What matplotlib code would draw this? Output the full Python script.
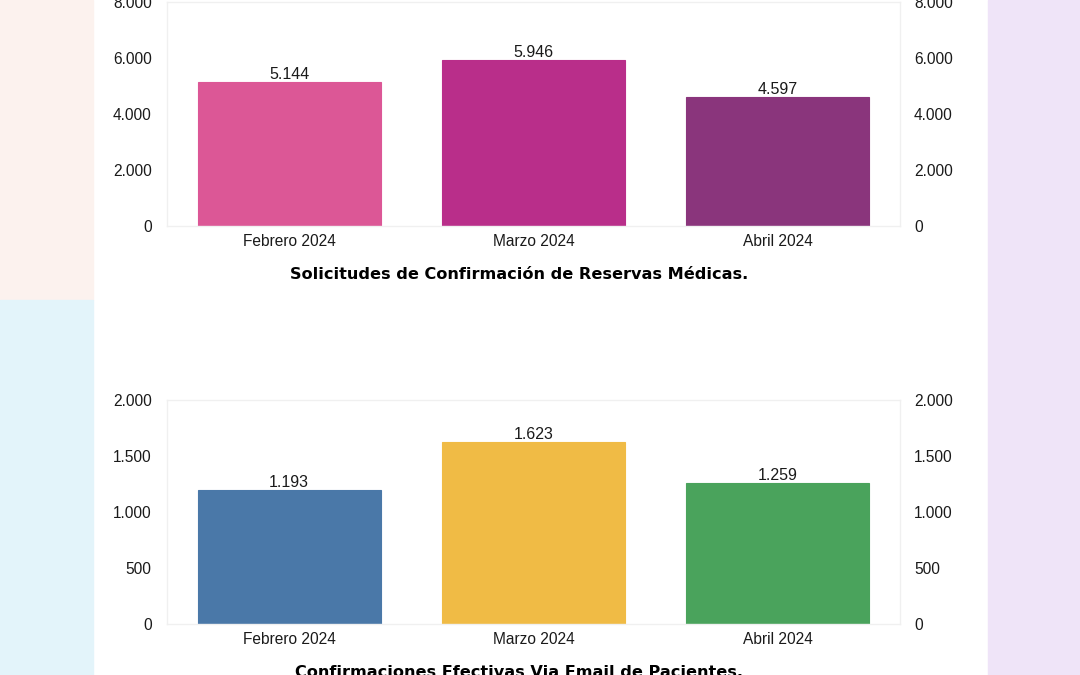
import numpy as np
import matplotlib
matplotlib.use("Agg")
import matplotlib.pyplot as plt
from matplotlib.patches import Rectangle
from matplotlib.ticker import FuncFormatter

meses = ["Febrero 2024", "Marzo 2024", "Abril 2024"]
solicitudes = [5144, 5946, 4597]
confirmaciones = [1193, 1623, 1259]
colores_sol = ["#dc5796", "#b92e8a", "#8a357c"]
colores_conf = ["#4a78a8", "#f0bb45", "#4aa35c"]
ticks_sol = [0, 2000, 4000, 6000, 8000]
ticks_conf = [0, 500, 1000, 1500, 2000]
titulo_sol = "Solicitudes de Confirmación de Reservas Médicas."
titulo_conf = "Confirmaciones Efectivas Via Email de Pacientes."

plt.rcParams['font.family'] = ['Liberation Sans', 'DejaVu Sans']


def miles(v, pos=None):
    return f"{int(v):,}".replace(",", ".")


fig = plt.figure(figsize=(10.8, 6.75), dpi=100)
fig.patch.set_facecolor("white")

# fondo a los lados
fig.add_artist(Rectangle((0, 0.555), 93/1080, 0.445, transform=fig.transFigure,
                         color="#fcf2ee", zorder=-10))
fig.add_artist(Rectangle((0, 0), 93/1080, 0.555, transform=fig.transFigure,
                         color="#e3f4fa", zorder=-10))
fig.add_artist(Rectangle((988/1080, 0), 92/1080, 1, transform=fig.transFigure,
                         color="#efe4f8", zorder=-10))


def grafico(rect, valores, colores, ticks, titulo):
    ax = fig.add_axes(rect)
    x = np.arange(len(meses))
    bars = ax.bar(x, valores, width=0.75, color=colores, edgecolor=colores,
                  linewidth=0.8)
    for b, v in zip(bars, valores):
        ax.text(b.get_x() + b.get_width()/2, v, miles(v), ha="center",
                va="bottom", fontsize=11.5, color="#1a1a1a")
    ax.set_xlim(-0.5, 2.5)
    ax.set_ylim(0, ticks[-1])
    ax.set_xticks(x)
    ax.set_xticklabels(meses, fontsize=11, color="#1a1a1a")
    ax.set_yticks(ticks)
    ax.yaxis.set_major_formatter(FuncFormatter(miles))
    ax.tick_params(length=0, labelsize=11.2, colors="#1a1a1a", pad=11)
    ax.tick_params(axis="x", pad=6)
    for s in ax.spines.values():
        s.set_color("#f0f0f0")
        s.set_linewidth(1)
    ax2 = ax.twinx()
    ax2.set_ylim(0, ticks[-1])
    ax2.set_yticks(ticks)
    ax2.yaxis.set_major_formatter(FuncFormatter(miles))
    ax2.tick_params(length=0, labelsize=11.2, colors="#1a1a1a", pad=10)
    for s in ax2.spines.values():
        s.set_visible(False)
    ax.text(0.48, -0.185, titulo, transform=ax.transAxes, ha="center",
            va="top", fontsize=11.6, fontweight="bold", family="DejaVu Sans",
            color="black")
    return ax


grafico([167/1080, 1 - 226/675, 733/1080, 224/675], solicitudes,
        colores_sol, ticks_sol, titulo_sol)
grafico([167/1080, 1 - 624/675, 733/1080, 224/675], confirmaciones,
        colores_conf, ticks_conf, titulo_conf)

fig.savefig("out.png", dpi=100)
